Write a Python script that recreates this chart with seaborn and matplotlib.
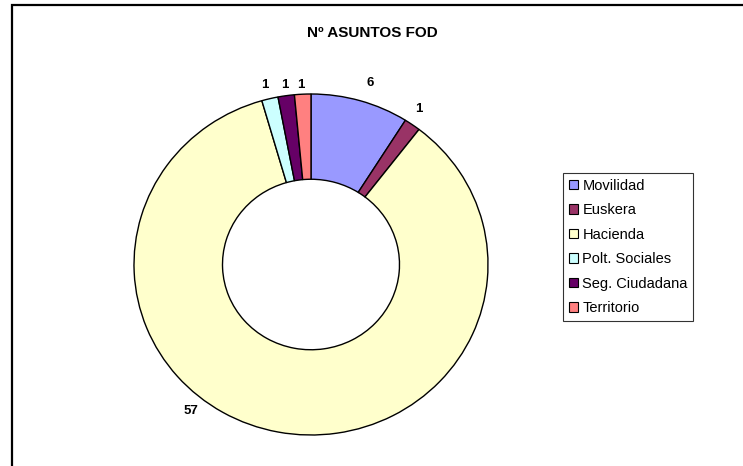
import matplotlib
matplotlib.use("Agg")
import matplotlib.pyplot as plt
import seaborn as sns
from matplotlib.patches import Rectangle, Patch

sns.set_theme(style="white")
plt.rcParams['font.family'] = ['Liberation Sans', 'DejaVu Sans']
plt.rcParams['text.color'] = 'black'

categories = ["Movilidad", "Euskera", "Hacienda", "Polt. Sociales", "Seg. Ciudadana", "Territorio"]
values = [6, 1, 57, 1, 1, 1]
colors = ["#9999FF", "#993366", "#FFFFCC", "#CCFFFF", "#660066", "#FF8080"]
title = "Nº ASUNTOS FOD"
# label anchor positions (relative to pie radius)
label_pos = [(0.333, 1.065), (0.61, 0.91), (-0.68, -0.86), (-0.26, 1.05), (-0.147, 1.05), (-0.056, 1.05)]

W, H = 743, 466
fig = plt.figure(figsize=(W / 100, H / 100), dpi=100)
fig.patch.set_facecolor("white")

# outer frame (extends beyond right/bottom edges)
fig.add_artist(Rectangle((12 / W, -0.1), 1.2, (H - 5) / H + 0.1, transform=fig.transFigure,
                         fill=False, edgecolor="black", linewidth=1.6))

cx, cy, rx, ry = 311, 264.5, 177, 170.5
ax = fig.add_axes([(cx - rx) / W, (H - cy - ry) / H, 2 * rx / W, 2 * ry / H])
wedges, _ = ax.pie(values, colors=colors, startangle=90, counterclock=False,
                   radius=1.0, wedgeprops=dict(width=0.5, edgecolor="black", linewidth=1.0))
ax.set_aspect("auto")
ax.set_xlim(-1, 1)
ax.set_ylim(-1, 1)
ax.axis("off")

for v, (x, y) in zip(values, label_pos):
    ax.text(x, y, str(v), ha="center", va="center", fontsize=9.5, fontweight="bold", color="black")

fig.text(372 / W, 1 - 33 / H, title, ha="center", va="center", fontsize=11,
         fontweight="bold", color="black")

handles = [Patch(facecolor=c, edgecolor="black", linewidth=0.8) for c in colors]
leg = fig.legend(handles, categories, loc="upper left",
                 bbox_to_anchor=(563 / W, 1 - 173 / H), fontsize=10.5,
                 frameon=True, fancybox=False, handlelength=0.62, handleheight=0.62,
                 handletextpad=0.3, labelspacing=0.72, borderpad=0.4, borderaxespad=0,
                 labelcolor="black")
leg.get_frame().set_edgecolor("black")
leg.get_frame().set_linewidth(0.8)

fig.savefig("out.png", dpi=100, facecolor="white")
